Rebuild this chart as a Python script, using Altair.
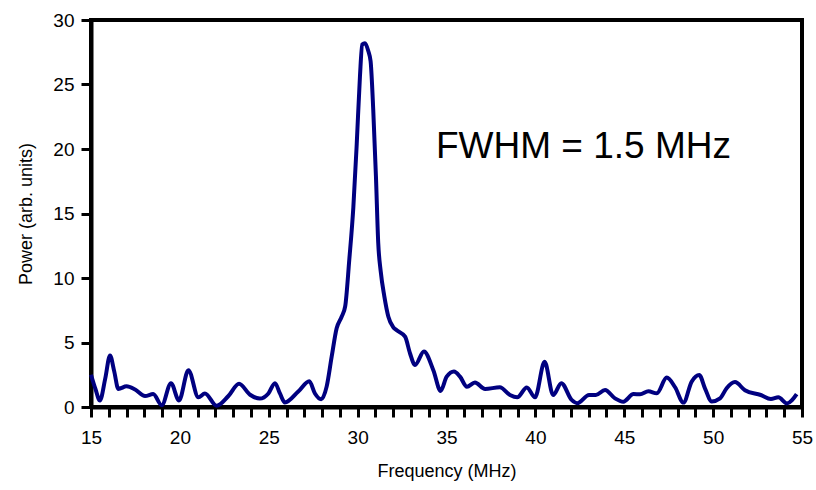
import altair as alt
import pandas as pd

# Measured power spectrum (arb. units) versus frequency (MHz)
freq_mhz = [
    15.0, 15.25, 15.5, 15.8, 16.07, 16.3, 16.54, 17.0, 17.48, 18.04, 18.5, 18.98,
    19.5, 19.95, 20.48, 21.04, 21.41, 22.07, 22.73, 23.33, 23.95, 24.5, 24.98,
    25.35, 25.63, 25.91, 26.66, 27.28, 27.6, 27.95, 28.26, 28.54, 28.82, 29.1,
    29.3, 29.53, 29.76, 29.95, 30.13, 30.26, 30.41, 30.6, 30.73, 30.88, 31.03,
    31.16, 31.3, 31.5, 31.73, 32.0, 32.2, 32.67, 32.95, 33.23, 33.73, 34.26,
    34.67, 35.01, 35.42, 35.76, 36.15, 36.6, 37.17, 38.0, 38.57, 38.98, 39.52,
    39.98, 40.52, 41.0, 41.46, 42.04, 42.36, 43.02, 43.4, 43.92, 44.48, 44.95,
    45.52, 45.89, 46.36, 46.83, 47.39, 47.86, 48.33, 48.79, 49.22, 49.54, 49.92,
    50.39, 50.76, 51.23, 51.79, 52.68, 53.25, 53.67, 54.15, 54.7,
]
power = [
    2.5, 1.4, 0.5, 2.2, 4.0, 2.8, 1.4, 1.6, 1.35, 0.85, 1.0, 0.13,
    1.85, 0.5, 2.85, 0.75, 1.05, 0.1, 0.85, 1.8, 0.95, 0.65, 1.05,
    1.85, 1.05, 0.35, 1.2, 2.0, 1.05, 0.6, 1.6, 3.9, 6.1, 7.0,
    7.8, 11.4, 15.5, 20.4, 25.6, 28.1, 28.2, 27.6, 26.8, 23.0, 17.9,
    12.7, 10.5, 8.6, 7.0, 6.2, 5.95, 5.45, 4.15, 3.25, 4.3, 2.85,
    1.25, 2.35, 2.75, 2.35, 1.57, 1.9, 1.4, 1.53, 0.93, 0.75, 1.52,
    0.75, 3.5, 0.93, 1.85, 0.55, 0.3, 0.93, 0.93, 1.32, 0.67, 0.41,
    1.0, 0.98, 1.22, 1.06, 2.28, 1.53, 0.34, 1.96, 2.48, 1.45, 0.43,
    0.67, 1.45, 1.93, 1.3, 0.93, 0.62, 0.75, 0.28, 1.0,
]

x_ticks = list(range(15, 56))
y_ticks = [0, 5, 10, 15, 20, 25, 30]
annotation = "FWHM = 1.5 MHz"

FONT = "Liberation Sans"

axis_style = dict(
    grid=False,
    domain=True,
    domainColor="black",
    domainWidth=4,
    ticks=True,
    tickColor="black",
    tickWidth=3,
    tickSize=10,
    labelFlush=False,
    labelFont=FONT,
    labelFontSize=19,
    labelColor="black",
    titleFont=FONT,
    titleFontSize=18,
    titleFontWeight="normal",
    titleColor="black",
)

df = pd.DataFrame({"freq": freq_mhz, "power": power})

spectrum = alt.Chart(df).mark_line(
    color="#000080", strokeWidth=4, interpolate="monotone"
).encode(
    x=alt.X(
        "freq:Q",
        scale=alt.Scale(domain=[15, 55], nice=False, zero=False),
        axis=alt.Axis(
            title="Frequency (MHz)",
            values=x_ticks,
            labelExpr="datum.value % 5 == 0 ? datum.label : ''",
            labelOverlap=False,
            labelPadding=11,
            titlePadding=15,
            **axis_style,
        ),
    ),
    y=alt.Y(
        "power:Q",
        scale=alt.Scale(domain=[0, 30], nice=False),
        axis=alt.Axis(
            title="Power (arb. units)",
            values=y_ticks,
            labelPadding=7,
            titlePadding=17,
            **axis_style,
        ),
    ),
)

label = alt.Chart(pd.DataFrame({"t": [annotation]})).mark_text(
    align="left", baseline="alphabetic", font=FONT, fontSize=37, color="black"
).encode(
    x=alt.value(345),
    y=alt.value(138),
    text="t:N",
)

chart = (
    alt.layer(spectrum, label)
    .properties(
        width=711,
        height=387,
        autosize=alt.AutoSizeParams(type="none"),
        padding={"left": 91, "top": 20, "right": 14, "bottom": 83},
        background="white",
    )
    .configure_view(stroke="black", strokeWidth=4)
)

chart.save("out.html", embed_options={"renderer": "svg", "actions": False})
